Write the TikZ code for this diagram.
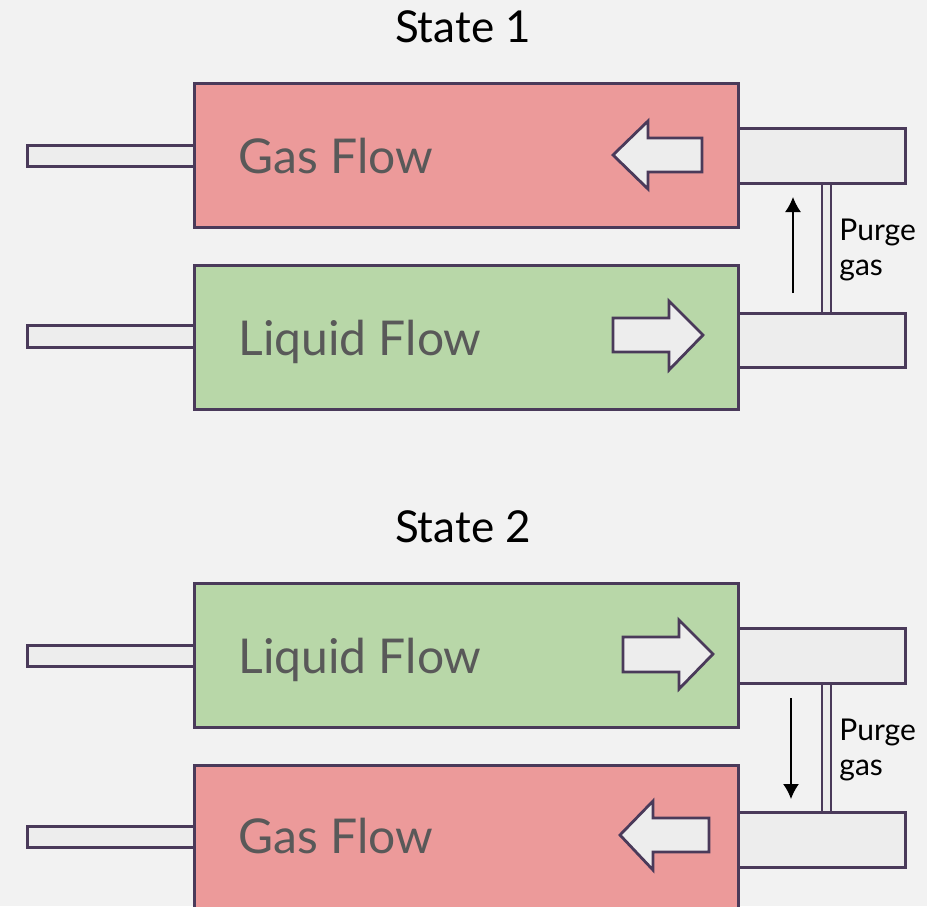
\documentclass[tikz,border=0pt]{standalone}
\usepackage{fontspec}
\setmainfont{Lato}
\usetikzlibrary{positioning,arrows.meta}
\definecolor{bgcol}{HTML}{F2F2F2}
\definecolor{edgecol}{HTML}{4A3A5A}
\definecolor{gascol}{HTML}{EC9A9A}
\definecolor{liqcol}{HTML}{B8D7A8}
\definecolor{pipecol}{HTML}{EDEDED}
\definecolor{labelgray}{HTML}{595959}
\begin{document}
\begin{tikzpicture}[x=0.5pt,y=-0.5pt]
\tikzset{
  pipe/.style={draw=edgecol,fill=pipecol,line width=1.4pt,inner sep=0},
  gasbox/.style={draw=edgecol,fill=gascol,line width=1.4pt,inner sep=0,
    minimum width=272pt,minimum height=72pt,anchor=north west},
  liqbox/.style={gasbox,fill=liqcol},
  flowlabel/.style={text=labelgray,font=\fontsize{24}{28}\selectfont,anchor=base west,inner sep=0},
  titlelabel/.style={font=\fontsize{22}{26}\selectfont,anchor=base,inner sep=0},
  purgelabel/.style={font=\fontsize{15}{17.5}\selectfont,align=left,anchor=base west,inner sep=0},
  hollow/.style={draw=edgecol,fill=pipecol,line width=1.4pt,line join=miter},
  flowarrow/.style={line width=0.75pt,-{Latex[length=7.5pt,width=8pt]}}
}
% background
\fill[bgcol] (0,0) rectangle (927,906);
\clip (0,0) rectangle (927,906);

%%%%% State 1
\node[titlelabel] (titleA) at (463,42) {State 1};
% pipes on the left
\node[pipe,minimum width=83.5pt,minimum height=10.5pt,anchor=north west] (inA1) at (26,144) {};
\node[pipe,minimum width=83.5pt,minimum height=11pt,anchor=north west] (inA2) at (26,324) {};
% the two chambers
\node[gasbox] (gasA) at (193,82) {};
\node[liqbox] (liqA) at (193,264) {};
% purge line
\draw[pipe] (822,178) rectangle (831,316);
\node[pipe,minimum width=83.5pt,minimum height=27.5pt,anchor=north west] (outA1) at (737,127) {};
\node[pipe,minimum width=83.5pt,minimum height=27pt,anchor=north west] (outA2) at (737,312) {};
% labels
\node[flowlabel] (gasAtxt) at (238,173) {Gas Flow};
\node[flowlabel] (liqAtxt) at (238,355) {Liquid Flow};
\node[purgelabel] (purgeA) at (839,275) {Purge\\gas};
% hollow arrows
\draw[hollow] (613,155) -- (648,121) -- (648,138) -- (702,138) -- (702,172)
  -- (648,172) -- (648,189) -- cycle;
\draw[hollow] (703,335) -- (669,301) -- (669,318) -- (613,318) -- (613,352)
  -- (669,352) -- (669,370) -- cycle;
% gas direction
\coordinate (upA1) at (793,293);
\coordinate (upA2) at (793,197);
\draw[flowarrow] (upA1) -- (upA2);

%%%%% State 2
\node[titlelabel] (titleB) at (463,542) {State 2};
% pipes on the left
\node[pipe,minimum width=83.5pt,minimum height=10.5pt,anchor=north west] (inB1) at (26,644) {};
\node[pipe,minimum width=83.5pt,minimum height=10.5pt,anchor=north west] (inB2) at (26,825) {};
% the two chambers
\node[liqbox] (liqB) at (193,582) {};
\node[gasbox] (gasB) at (193,764) {};
% purge line
\draw[pipe] (822,678) rectangle (831,815);
\node[pipe,minimum width=83.5pt,minimum height=27.5pt,anchor=north west] (outB1) at (737,627) {};
\node[pipe,minimum width=83.5pt,minimum height=27.5pt,anchor=north west] (outB2) at (737,811) {};
% labels
\node[flowlabel] (liqBtxt) at (238,673) {Liquid Flow};
\node[flowlabel] (gasBtxt) at (238,853) {Gas Flow};
\node[purgelabel] (purgeB) at (839,775) {Purge\\gas};
% hollow arrows
\draw[hollow] (713,654) -- (679,620) -- (679,637) -- (623,637) -- (623,672)
  -- (679,672) -- (679,689) -- cycle;
\draw[hollow] (620,835) -- (653,801) -- (653,818) -- (709,818) -- (709,852)
  -- (653,852) -- (653,870) -- cycle;
% gas direction
\coordinate (dnB1) at (791,698);
\coordinate (dnB2) at (791,799);
\draw[flowarrow] (dnB1) -- (dnB2);
\end{tikzpicture}
\end{document}
